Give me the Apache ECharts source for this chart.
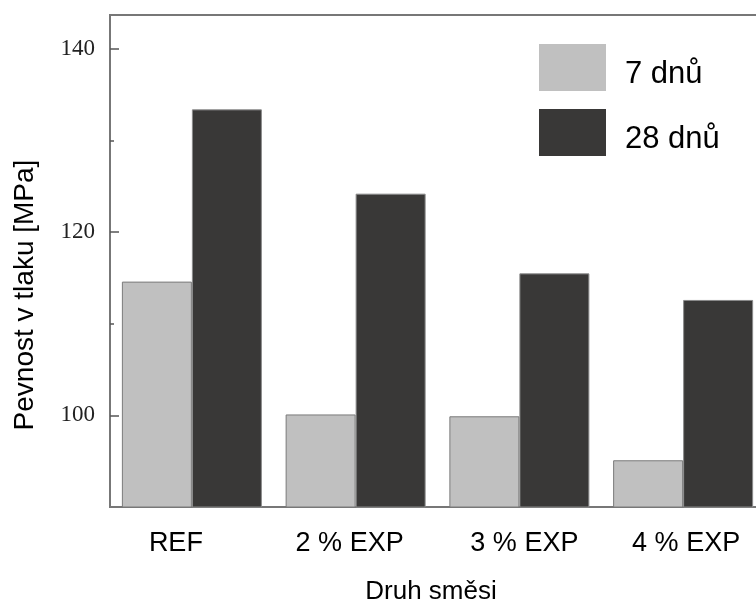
<!DOCTYPE html>
<html>
<head>
<meta charset="utf-8">
<script src="https://cdn.jsdelivr.net/npm/echarts@6/dist/echarts.min.js"></script>
<style>
  html, body { margin: 0; padding: 0; background: #fff; }
  #chart { width: 756px; height: 613px; }
</style>
</head>
<body>
<div id="chart"></div>
<script>
// Compressive strength of the mixes after 7 and 28 days
const categories = ['REF', '2 % EXP', '3 % EXP', '4 % EXP'];
const strength7 = [114.6, 100.1, 99.9, 95.1];
const strength28 = [133.4, 124.2, 115.5, 112.6];
const seriesNames = ['7 dnů', '28 dnů'];
const majorTicks = [100, 120, 140];
const minorTicks = [110, 130];

// small per-label horizontal nudges (px, negative = left)
const labelNudge = [-16, -6, 5, 3];

const SANS = '"Liberation Sans", Arial, sans-serif';
const SERIF = '"Liberation Serif", "Times New Roman", serif';
const AXIS_COLOR = '#777';

const chart = echarts.init(document.getElementById('chart'), null, { renderer: 'canvas' });

const xData = categories.map((c, i) => {
  const n = labelNudge[i];
  return {
    value: c,
    textStyle: { padding: n < 0 ? [0, -2 * n, 0, 0] : [0, 0, 0, 2 * n] }
  };
});

const yCommon = {
  type: 'value',
  min: 90,
  max: 143.7,
  interval: 10,
  position: 'left',
  splitLine: { show: false }
};

chart.setOption({
  animation: false,
  backgroundColor: '#fff',
  // the plot frame runs past the right edge of the canvas
  grid: {
    left: 110, top: 15, width: 655, bottom: 106,
    outerBoundsMode: 'none',
    containLabel: false,
    show: true, borderColor: AXIS_COLOR, borderWidth: 2, backgroundColor: 'transparent'
  },
  legend: {
    orient: 'vertical',
    left: 539, top: 44,
    padding: 0,
    icon: 'rect',
    itemWidth: 67, itemHeight: 47, itemGap: 18,
    itemStyle: { borderWidth: 0 },
    formatter: '{t|{name}}',
    textStyle: {
      fontFamily: SANS, fontSize: 31, color: '#000',
      rich: { t: { fontFamily: SANS, fontSize: 31, color: '#000', padding: [14, 0, 0, 14] } }
    },
    data: seriesNames
  },
  xAxis: {
    type: 'category',
    data: xData,
    axisLine: { show: true, lineStyle: { color: AXIS_COLOR, width: 2 } },
    axisTick: { show: false },
    axisLabel: { fontFamily: SANS, fontSize: 27, color: '#000', margin: 23 },
    splitLine: { show: false }
  },
  yAxis: [
    Object.assign({}, yCommon, {
      axisLine: { show: true, lineStyle: { color: AXIS_COLOR, width: 2 } },
      axisTick: { show: true, inside: true, length: 9, customValues: majorTicks,
                  lineStyle: { color: '#555', width: 1.5 } },
      axisLabel: { customValues: majorTicks, fontFamily: SERIF, fontSize: 23, color: '#222', margin: 15 }
    }),
    Object.assign({}, yCommon, {
      axisLine: { show: false },
      axisTick: { show: true, inside: true, length: 4, customValues: minorTicks,
                  lineStyle: { color: '#555', width: 1.5 } },
      axisLabel: { show: false, customValues: minorTicks }
    })
  ],
  graphic: [
    {
      type: 'text',
      x: 25, y: 295,
      rotation: Math.PI / 2,
      style: {
        text: 'Pevnost v tlaku [MPa]',
        font: '28px ' + SANS,
        fill: '#000',
        textAlign: 'center',
        textVerticalAlign: 'middle'
      }
    },
    {
      type: 'text',
      x: 431, y: 592,
      style: {
        text: 'Druh směsi',
        font: '26px ' + SANS,
        fill: '#000',
        textAlign: 'center',
        textVerticalAlign: 'middle'
      }
    }
  ],
  series: [
    {
      name: seriesNames[0],
      type: 'bar',
      yAxisIndex: 0,
      data: strength7,
      barWidth: 70,
      barGap: '0%',
      itemStyle: { color: '#c0c0c0', borderColor: '#7a7a7a', borderWidth: 1 }
    },
    {
      name: seriesNames[1],
      type: 'bar',
      yAxisIndex: 0,
      data: strength28,
      barWidth: 70,
      barGap: '0%',
      itemStyle: { color: '#393837', borderColor: '#8a8a8a', borderWidth: 1 }
    }
  ]
});
</script>
</body>
</html>
